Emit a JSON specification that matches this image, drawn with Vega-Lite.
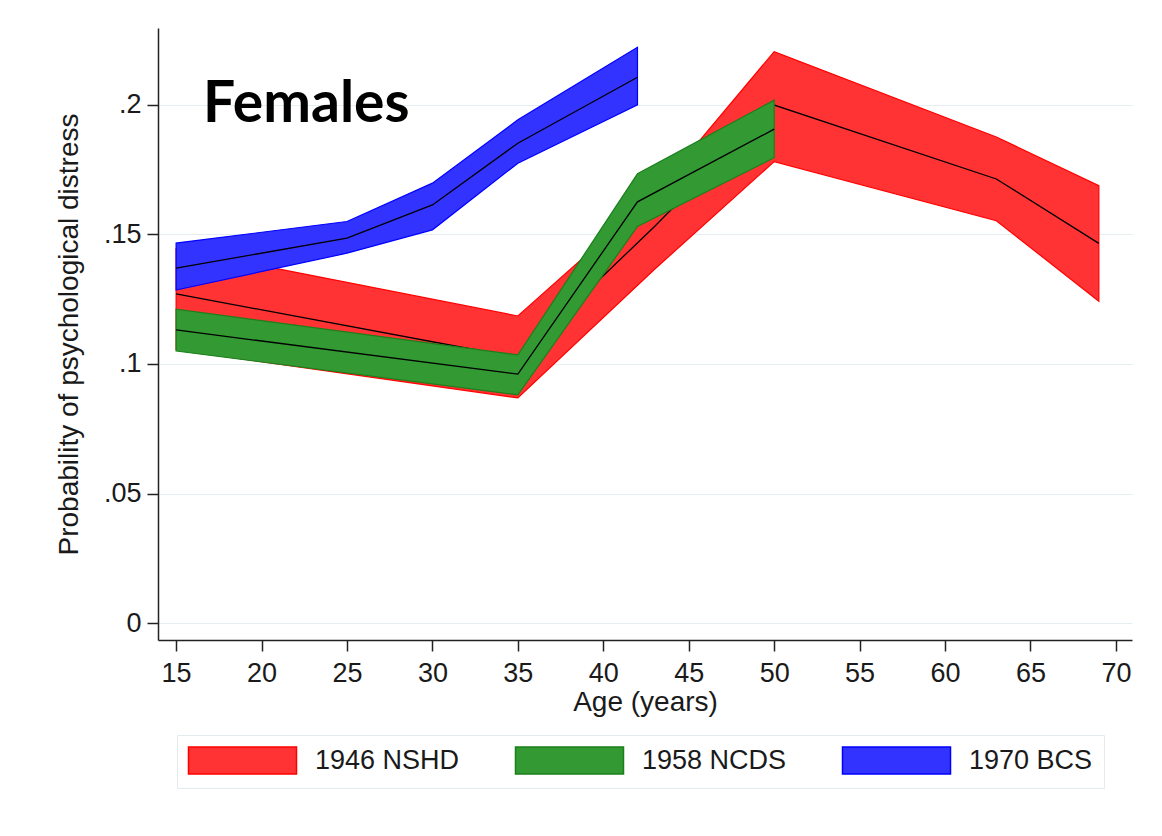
{
  "$schema": "https://vega.github.io/schema/vega-lite/v6.json",
  "width": 974,
  "height": 612,
  "autosize": {"type": "none"},
  "padding": {"left": 158, "top": 28, "right": 30, "bottom": 196},
  "background": "white",
  "config": {"view": {"stroke": null}, "font": "Liberation Sans"},
  "data": {
    "values": [
      {"cohort": "1946 NSHD", "age": 15, "lo": 0.1055, "est": 0.127, "hi": 0.1444},
      {"cohort": "1946 NSHD", "age": 35, "lo": 0.0869, "est": 0.1024, "hi": 0.1185},
      {"cohort": "1946 NSHD", "age": 43, "lo": 0.1365, "est": 0.153, "hi": 0.1654},
      {"cohort": "1946 NSHD", "age": 50, "lo": 0.178, "est": 0.1998, "hi": 0.2204},
      {"cohort": "1946 NSHD", "age": 63, "lo": 0.1552, "est": 0.1713, "hi": 0.1875},
      {"cohort": "1946 NSHD", "age": 69, "lo": 0.1242, "est": 0.1465, "hi": 0.1687},
      {"cohort": "1958 NCDS", "age": 15, "lo": 0.105, "est": 0.1131, "hi": 0.1211},
      {"cohort": "1958 NCDS", "age": 35, "lo": 0.0881, "est": 0.0961, "hi": 0.1035},
      {"cohort": "1958 NCDS", "age": 42, "lo": 0.153, "est": 0.1625, "hi": 0.1733},
      {"cohort": "1958 NCDS", "age": 50, "lo": 0.1795, "est": 0.1905, "hi": 0.2017},
      {"cohort": "1970 BCS", "age": 15, "lo": 0.1285, "est": 0.1369, "hi": 0.1466},
      {"cohort": "1970 BCS", "age": 25, "lo": 0.1427, "est": 0.1485, "hi": 0.1549},
      {"cohort": "1970 BCS", "age": 30, "lo": 0.1517, "est": 0.1613, "hi": 0.1697},
      {"cohort": "1970 BCS", "age": 35, "lo": 0.1774, "est": 0.1851, "hi": 0.1941},
      {"cohort": "1970 BCS", "age": 42, "lo": 0.1999, "est": 0.2105, "hi": 0.2221}
    ]
  },
  "layer": [
    {
      "transform": [{"filter": "datum.cohort === '1946 NSHD'"}],
      "mark": {"type": "area", "opacity": 1, "strokeWidth": 1.2},
      "encoding": {
        "x": {
          "field": "age",
          "type": "quantitative",
          "scale": {"domain": [13.94, 70.94], "nice": false, "zero": false},
          "axis": {
            "values": [15, 20, 25, 30, 35, 40, 45, 50, 55, 60, 65, 70],
            "title": "Age (years)",
            "grid": false,
            "tickSize": 11,
            "tickWidth": 1.5,
            "tickColor": "#222222",
            "domainColor": "#222222",
            "domainWidth": 1.5,
            "labelFont": "Liberation Sans",
            "labelFontSize": 27,
            "labelColor": "#1a1a1a",
            "labelPadding": 9,
            "labelFlush": false,
            "titleFont": "Liberation Sans",
            "titleFontSize": 28,
            "titleFontWeight": "normal",
            "titleColor": "#1a1a1a",
            "titlePadding": 2
          }
        },
        "y": {
          "field": "lo",
          "type": "quantitative",
          "scale": {"domain": [-0.0064, 0.2295], "nice": false, "zero": false},
          "title": "Probability of psychological distress",
          "axis": {
            "values": [0, 0.05, 0.1, 0.15, 0.2],
            "labelExpr": "datum.value == 0 ? '0' : substring(format(datum.value, '.2~f'), 1)",
            "grid": true,
            "gridColor": "#e6eef1",
            "gridWidth": 1,
            "tickSize": 11,
            "tickWidth": 1.5,
            "tickColor": "#222222",
            "domainColor": "#222222",
            "domainWidth": 1.5,
            "labelFont": "Liberation Sans",
            "labelFontSize": 27,
            "labelColor": "#1a1a1a",
            "labelPadding": 6,
            "labelFlush": false,
            "titleFont": "Liberation Sans",
            "titleFontSize": 28,
            "titleFontWeight": "normal",
            "titleColor": "#1a1a1a",
            "titlePadding": 20
          }
        },
        "y2": {"field": "hi"},
        "fill": {
          "field": "cohort",
          "type": "nominal",
          "scale": {"domain": ["1946 NSHD", "1958 NCDS", "1970 BCS"], "range": ["#ff3333", "#339933", "#3333ff"]},
          "legend": {
            "title": null,
            "orient": "none",
            "legendX": 19,
            "legendY": 707,
            "direction": "horizontal",
            "columns": 3,
            "symbolType": "M-4,-1H4V1H-4Z",
            "symbolSize": 729,
            "symbolOffset": 40,
            "symbolStrokeWidth": 1.5,
            "symbolOpacity": 1,
            "labelFont": "Liberation Sans",
            "labelFontSize": 27,
            "labelColor": "#1a1a1a",
            "labelOffset": 58,
            "labelLimit": 300,
            "columnPadding": 52,
            "padding": 11,
            "strokeColor": "#e3ebef",
            "fillColor": "white"
          }
        },
        "stroke": {
          "field": "cohort",
          "type": "nominal",
          "scale": {"domain": ["1946 NSHD", "1958 NCDS", "1970 BCS"], "range": ["#ff0000", "#1a801a", "#0000ff"]},
          "legend": {
            "title": null,
            "orient": "none",
            "legendX": 19,
            "legendY": 707,
            "direction": "horizontal",
            "columns": 3,
            "symbolType": "M-4,-1H4V1H-4Z",
            "symbolSize": 729,
            "symbolOffset": 40,
            "symbolStrokeWidth": 1.5,
            "symbolOpacity": 1,
            "labelFont": "Liberation Sans",
            "labelFontSize": 27,
            "labelColor": "#1a1a1a",
            "labelOffset": 58,
            "labelLimit": 300,
            "columnPadding": 52,
            "padding": 11,
            "strokeColor": "#e3ebef",
            "fillColor": "white"
          }
        }
      }
    },
    {
      "transform": [{"filter": "datum.cohort === '1946 NSHD'"}],
      "mark": {"type": "line", "color": "black", "strokeWidth": 1.3},
      "encoding": {
        "x": {"field": "age", "type": "quantitative"},
        "y": {"field": "est", "type": "quantitative", "title": "Probability of psychological distress"}
      }
    },
    {
      "transform": [{"filter": "datum.cohort === '1958 NCDS'"}],
      "mark": {"type": "area", "opacity": 1, "strokeWidth": 1.2},
      "encoding": {
        "x": {"field": "age", "type": "quantitative"},
        "y": {"field": "lo", "type": "quantitative", "title": "Probability of psychological distress"},
        "y2": {"field": "hi"},
        "fill": {"field": "cohort", "type": "nominal"},
        "stroke": {"field": "cohort", "type": "nominal"}
      }
    },
    {
      "transform": [{"filter": "datum.cohort === '1958 NCDS'"}],
      "mark": {"type": "line", "color": "black", "strokeWidth": 1.3},
      "encoding": {
        "x": {"field": "age", "type": "quantitative"},
        "y": {"field": "est", "type": "quantitative", "title": "Probability of psychological distress"}
      }
    },
    {
      "transform": [{"filter": "datum.cohort === '1970 BCS'"}],
      "mark": {"type": "area", "opacity": 1, "strokeWidth": 1.2},
      "encoding": {
        "x": {"field": "age", "type": "quantitative"},
        "y": {"field": "lo", "type": "quantitative", "title": "Probability of psychological distress"},
        "y2": {"field": "hi"},
        "fill": {"field": "cohort", "type": "nominal"},
        "stroke": {"field": "cohort", "type": "nominal"}
      }
    },
    {
      "transform": [{"filter": "datum.cohort === '1970 BCS'"}],
      "mark": {"type": "line", "color": "black", "strokeWidth": 1.3},
      "encoding": {
        "x": {"field": "age", "type": "quantitative"},
        "y": {"field": "est", "type": "quantitative", "title": "Probability of psychological distress"}
      }
    },
    {
      "data": {"values": [{"panel": "Females"}]},
      "mark": {"type": "text", "font": "Lato", "fontWeight": "bold", "fontSize": 57, "align": "left", "baseline": "alphabetic", "color": "black"},
      "encoding": {
        "text": {"field": "panel", "type": "nominal"},
        "x": {"datum": 16.58, "type": "quantitative"},
        "y": {"datum": 0.1933, "type": "quantitative"}
      }
    }
  ]
}
